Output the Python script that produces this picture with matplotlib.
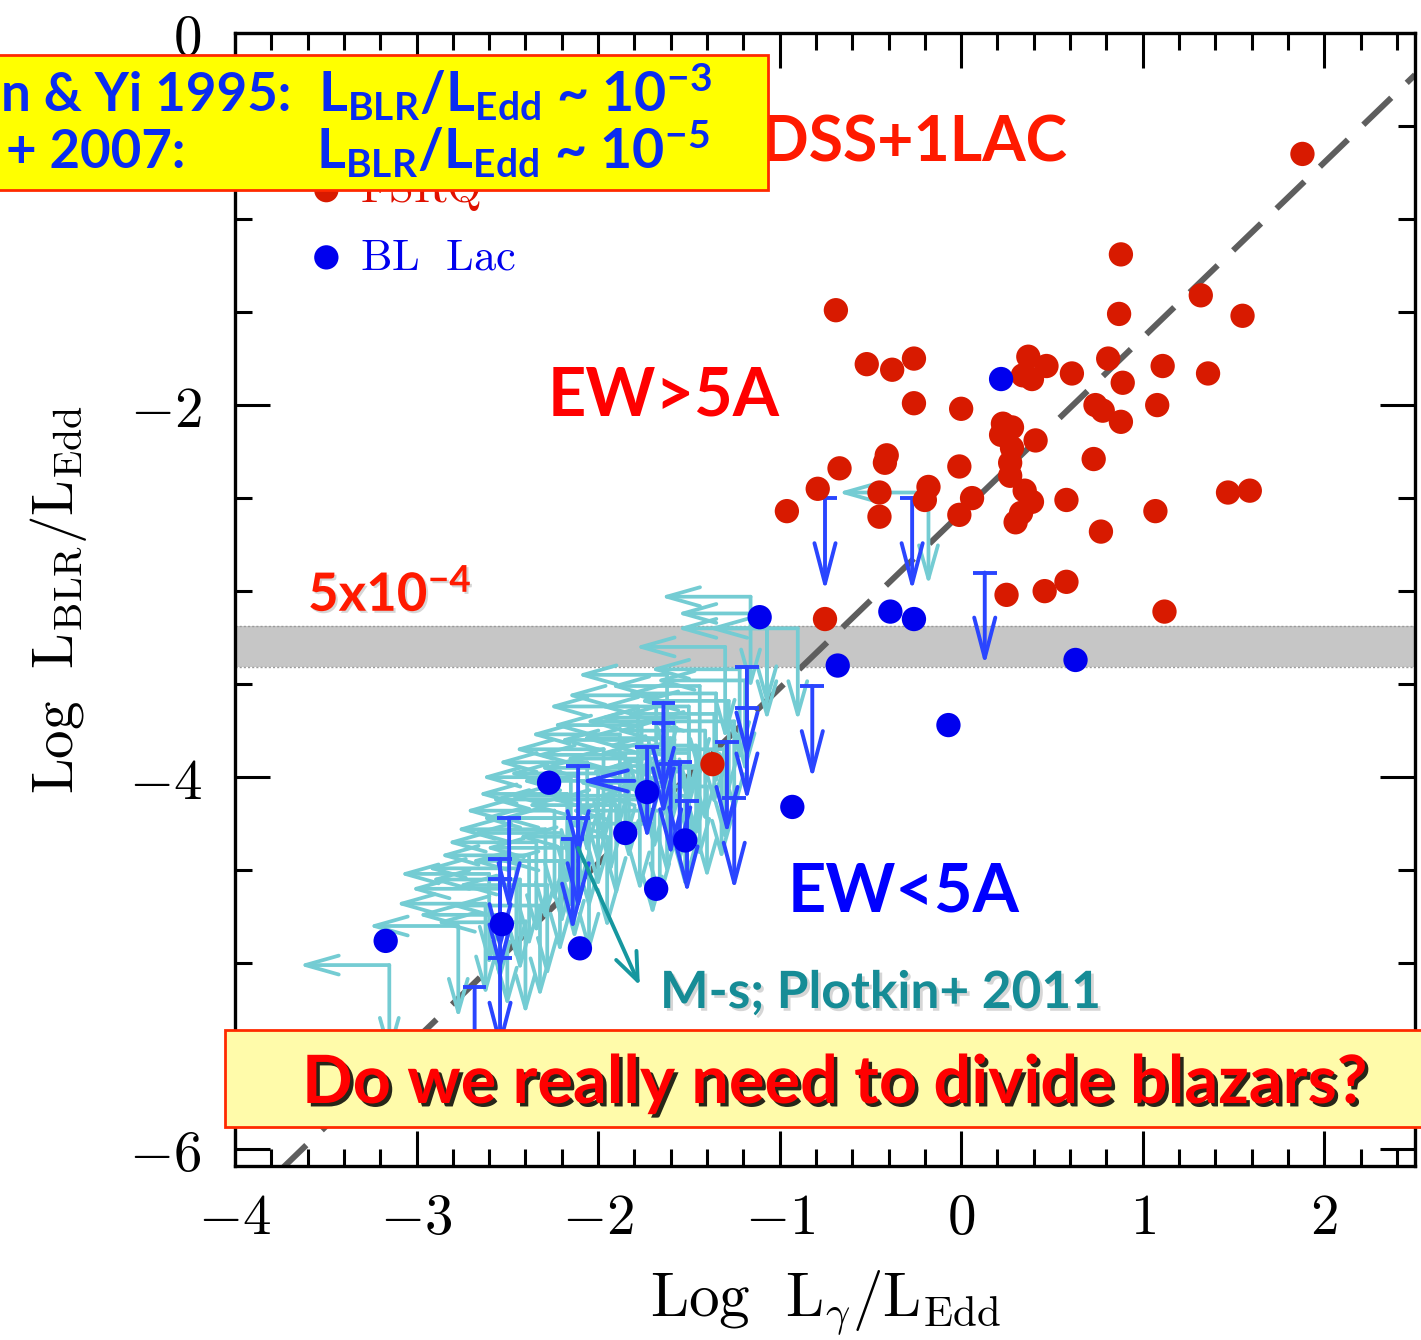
import numpy as np
import matplotlib
matplotlib.use("Agg")
import matplotlib.pyplot as plt
import matplotlib.patheffects as pe
from matplotlib.patches import Rectangle
from matplotlib.ticker import MultipleLocator

plt.rcParams["mathtext.fontset"] = "cm"
# the "custom" math set is used only by the annotation texts
plt.rcParams["mathtext.rm"] = "Lato:bold"
plt.rcParams["mathtext.bf"] = "Lato:bold"
plt.rcParams["mathtext.it"] = "Lato:bold"
plt.rcParams["mathtext.sf"] = "Lato:bold"

# ---------------- data: log Lgamma/LEdd (x), log LBLR/LEdd (y) ----------------
# FSRQs (EW > 5 A), SDSS + 1LAC
fsrq_x = [-0.69, 0.88, 1.32, 1.55, 0.87, -0.52, -0.38, -0.26, 0.37, 0.47,
          0.34, 0.39, 0.61, 0.81, 1.11, 1.36, 0.89, -0.26, 0.00, 0.74,
          0.78, 0.88, 1.08, 0.23, 0.28, 0.22, 0.41, 0.28, -0.41, -0.42,
          -0.01, 0.73, -0.67, 0.27, 0.27, -0.79, -0.45, -0.18, -0.20, 0.06,
          0.35, 0.39, 0.58, -0.96, -0.45, -0.01, 0.33, 0.30, 1.07, 1.47,
          1.59, 0.77, 0.25, 0.46, 0.58, 1.12, -0.75, 1.88, -1.37]
fsrq_y = [-1.49, -1.19, -1.41, -1.52, -1.51, -1.78, -1.81, -1.75, -1.74, -1.79,
          -1.84, -1.86, -1.83, -1.75, -1.79, -1.83, -1.88, -1.99, -2.02, -2.00,
          -2.03, -2.09, -2.00, -2.10, -2.12, -2.16, -2.19, -2.23, -2.27, -2.31,
          -2.33, -2.29, -2.34, -2.31, -2.38, -2.45, -2.47, -2.44, -2.51, -2.50,
          -2.46, -2.52, -2.51, -2.57, -2.60, -2.59, -2.58, -2.63, -2.57, -2.47,
          -2.46, -2.68, -3.02, -3.00, -2.95, -3.11, -3.15, -0.65, -3.93]

# BL Lacs with measured lines
bll_x = [0.22, -1.11, -0.39, -0.26, -0.68, 0.63, -0.07, -0.93, -2.27, -1.73,
         -1.85, -1.52, -1.68, -2.53, -2.10, -3.17]
bll_y = [-1.86, -3.14, -3.11, -3.15, -3.40, -3.37, -3.72, -4.16, -4.03, -4.08,
         -4.30, -4.34, -4.60, -4.79, -4.92, -4.88]

# BL Lacs with upper limits on the BLR luminosity
bll_lim_x = [-0.75, -0.27, 0.13, -0.82, -1.18, -1.18, -1.29, -1.25, -1.64, -1.64,
             -1.73, -1.60, -1.51, -2.11, -2.11, -2.14, -2.49, -2.54, -2.54, -2.54,
             -2.68, -1.55]
bll_lim_y = [-2.50, -2.50, -2.90, -3.51, -3.41, -3.63, -3.81, -4.11, -3.60, -3.71,
             -3.84, -3.93, -4.13, -3.94, -4.22, -4.33, -4.22, -4.44, -4.55, -4.97,
             -5.13, -3.92]

# BL Lac with an upper limit on the gamma-ray luminosity
bll_glim_x = [-1.80]
bll_glim_y = [-4.02]

# Plotkin+ 2011 M-s sources: upper limits on both quantities
ms_x = [-1.16, -1.07, -0.90, -1.07, -1.30, -1.22, -1.62, -1.19, -1.44, -1.68,
        -1.28, -1.36, -1.50, -1.76, -1.41, -1.60, -1.97, -1.50, -1.69, -2.06,
        -1.83, -1.44, -2.15, -1.93, -1.62, -2.17, -2.00, -1.77, -2.24, -2.05,
        -2.29, -2.34, -2.13, -2.45, -2.21, -2.54, -2.50, -2.32, -2.77, -3.15,
        -0.18, -1.88, -1.52, -1.66, -2.43,
        -1.35, -1.50, -1.25, -1.58, -1.72, -1.30, -1.85, -1.55, -2.00, -1.40,
        -1.90, -2.10, -1.70, -2.20, -1.95, -2.38, -2.05, -2.60, -2.28, -2.62,
        -2.40, -1.78, -1.46, -2.15, -1.32]
ms_y = [-3.03, -3.12, -3.20, -3.20, -3.30, -3.42, -3.45, -3.48, -3.51, -3.56,
        -3.59, -3.66, -3.68, -3.72, -3.75, -3.79, -3.85, -3.87, -3.90, -3.92,
        -3.95, -3.94, -4.00, -4.02, -4.03, -4.09, -4.10, -4.12, -4.18, -4.22,
        -4.28, -4.35, -4.38, -4.49, -4.45, -4.60, -4.74, -4.69, -4.80, -5.01,
        -2.47, -3.77, -4.10, -4.18, -4.55,
        -3.55, -3.62, -3.70, -3.70, -3.80, -3.85, -3.88, -3.97, -3.98, -4.05,
        -4.15, -4.12, -4.25, -4.30, -4.32, -4.42, -4.45, -4.52, -4.58, -4.68,
        -4.78, -3.62, -3.83, -4.22, -3.95]

# LBLR/LEdd = 5e-4 dividing band and the FSRQ relation
band_lo, band_hi = -3.41, -3.19
rel_slope, rel_icpt = 0.942, -2.58
limit_len = 0.5

# ---------------- figure ----------------
W, H = 1421, 1340


def fx(px):
    return px / W


def fy(py):
    return 1 - py / H


fig = plt.figure(figsize=(W / 100, H / 100), dpi=100)
ax = fig.add_axes([fx(235), fy(1166), (1415 - 235) / W, (1166 - 33) / H])
ax.set_xlim(-4, 2.5)
ax.set_ylim(-6.09, 0)

red = "#d81a00"
blue = "#0000ee"
lim_blue = "#2a45ff"
cyan = "#74ccd3"

ax.axhspan(band_lo, band_hi, facecolor="#c6c6c6", edgecolor="none", zorder=1)
for yb in (band_lo, band_hi):
    ax.axhline(yb, color="#9a9a9a", lw=1.0, ls=(0, (1.5, 1.5)), zorder=1.1)

xx = np.array(ax.get_xlim())
ax.plot(xx, rel_slope * xx + rel_icpt, color="#5e5e5e", lw=4.3,
        ls=(0, (6.5, 3.6)), dash_capstyle="butt", zorder=2)


def arrow(x0, y0, x1, y1, color, lw, z, hl=1.1, hw=0.28):
    ax.annotate("", xy=(x1, y1), xytext=(x0, y0), zorder=z,
                arrowprops=dict(arrowstyle=f"->,head_length={hl},head_width={hw}",
                                color=color, lw=lw, shrinkA=0, shrinkB=0,
                                mutation_scale=20))


# M-s upper limits: left and down from each corner
for x, y in zip(ms_x, ms_y):
    arrow(x, y, x - limit_len, y, cyan, 2.7, 3, hl=1.2, hw=0.34)
    arrow(x, y, x, y - limit_len, cyan, 2.7, 3, hl=1.2, hw=0.34)

# BL Lac upper limits on LBLR
bll_lim_x = np.array(bll_lim_x)
bll_lim_y = np.array(bll_lim_y)
ax.hlines(bll_lim_y, bll_lim_x - 0.065, bll_lim_x + 0.065, color=lim_blue,
          lw=2.8, zorder=4)
for x, y in zip(bll_lim_x, bll_lim_y):
    arrow(x, y, x, y - limit_len, lim_blue, 2.8, 4, hl=1.45, hw=0.38)
for x, y in zip(bll_glim_x, bll_glim_y):
    arrow(x, y, x - 0.3, y, lim_blue, 2.8, 4, hl=1.45, hw=0.38)

h_fsrq = ax.scatter(fsrq_x, fsrq_y, s=17.5 ** 2, color=red, edgecolors="none",
                    zorder=5)
h_bll = ax.scatter(bll_x, bll_y, s=17.5 ** 2, color=blue, edgecolors="none",
                   zorder=6)

# pointer to the Plotkin+ 2011 sample
ax.annotate("", xy=(-1.77, -5.12), xytext=(-2.11, -4.38), zorder=7,
            arrowprops=dict(arrowstyle="->,head_length=1.0,head_width=0.4",
                            color="#16979f", lw=2.8, shrinkA=0, shrinkB=0,
                            mutation_scale=20))

leg = ax.legend([h_fsrq, h_bll], [r"$\mathrm{FSRQ}$", r"$\mathrm{BL\ \ Lac}$"],
                loc="upper left", bbox_to_anchor=(0.068, 0.881), frameon=False,
                fontsize=32, handlelength=0.5, handletextpad=0.5,
                labelspacing=0.5, borderpad=0, borderaxespad=0,
                scatterpoints=1)
for t, c in zip(leg.get_texts(), ["#e01000", "#0000ee"]):
    t.set_color(c)

# axes frame and ticks
for s in ax.spines.values():
    s.set_linewidth(2.4)
ax.set_xticks([-4, -3, -2, -1, 0, 1, 2],
              labels=[r"$-4$", r"$-3$", r"$-2$", r"$-1$", r"$0$", r"$1$", r"$2$"])
ax.set_yticks([0, -2, -4, -6], labels=[r"$0$", r"$-2$", r"$-4$", r"$-6$"])
ax.xaxis.set_minor_locator(MultipleLocator(0.2))
ax.yaxis.set_minor_locator(MultipleLocator(0.5))
ax.tick_params(which="both", direction="in", top=True, right=True, width=2.2,
               labelsize=41, colors="black")
ax.tick_params(which="major", length=25)
ax.tick_params(which="minor", length=12)
ax.tick_params(axis="x", pad=18)
ax.tick_params(axis="y", pad=24)

ax.set_xlabel(r"$\mathrm{Log}\ \ \mathrm{L}_{\gamma}/\mathrm{L}_{\mathrm{Edd}}$",
              fontsize=44)
ax.xaxis.set_label_coords(0.5, -0.090)
ax.xaxis.label.set_va("top")
ax.set_ylabel(r"$\mathrm{Log}\ \ \mathrm{L}_{\mathrm{BLR}}/\mathrm{L}_{\mathrm{Edd}}$",
              fontsize=41)
ax.yaxis.set_label_coords(-0.124, 0.5)

# ---------------- annotations ----------------
comic = dict(family="Lato", fontweight="bold", math_fontfamily="custom")

fig.text(fx(1068), fy(161), "SDSS+1LAC", color="#ff1a00", fontsize=45,
         ha="right", va="baseline", zorder=4, **comic)
fig.text(fx(548), fy(416), "EW>5A", color="#ff0000", fontsize=48,
         ha="left", va="baseline", zorder=4, **comic)
fig.text(fx(788), fy(912), "EW<5A", color="#0000ff", fontsize=48,
         ha="left", va="baseline", zorder=4, **comic)
fig.text(fx(308), fy(611), r"5x10$^{-4}$", color="#ff1a00", fontsize=38,
         ha="left", va="baseline", zorder=4,
         path_effects=[pe.withSimplePatchShadow(offset=(1.5, -1.5),
                                                shadow_rgbFace="#999999",
                                                alpha=0.4)], **comic)
fig.text(fx(660), fy(1008), "M-s; Plotkin+ 2011", color="#168c96", fontsize=37,
         ha="left", va="baseline", zorder=4,
         path_effects=[pe.withSimplePatchShadow(offset=(2, -2),
                                                shadow_rgbFace="#999999",
                                                alpha=0.4)], **comic)

# top yellow box
fig.add_artist(Rectangle((fx(-5), fy(190)), (773) / W, (190 - 55) / H,
                         transform=fig.transFigure, facecolor="#ffff00",
                         edgecolor="#ff2a00", lw=2, zorder=5))
box_blue = "#0a2cf0"
fig.text(fx(291), fy(111), "n & Yi 1995:", color=box_blue, fontsize=38,
         ha="right", va="baseline", zorder=6, **comic)
fig.text(fx(318), fy(111),
         r"L$_{\mathrm{BLR}}$/L$_{\mathrm{Edd}}$ ~ 10$^{\mathrm{-3}}$",
         color=box_blue, fontsize=40, ha="left", va="baseline", zorder=6,
         **comic)
fig.text(fx(185), fy(168), "+ 2007:", color=box_blue, fontsize=38,
         ha="right", va="baseline", zorder=6, **comic)
fig.text(fx(316), fy(168),
         r"L$_{\mathrm{BLR}}$/L$_{\mathrm{Edd}}$ ~ 10$^{\mathrm{-5}}$",
         color=box_blue, fontsize=40, ha="left", va="baseline", zorder=6,
         **comic)

# bottom question box
fig.add_artist(Rectangle((fx(225), fy(1127)), (1430 - 225) / W, (1127 - 1030) / H,
                         transform=fig.transFigure, facecolor="#fffbaa",
                         edgecolor="#ff2a00", lw=2, zorder=5))
fig.text(fx(302), fy(1103), "Do we really need to divide blazars?",
         color="#ff0000", fontsize=48, ha="left", va="baseline", zorder=6,
         path_effects=[pe.withSimplePatchShadow(offset=(2.5, -2.5),
                                                shadow_rgbFace="black",
                                                alpha=0.85)], **comic)

fig.savefig("out.png", dpi=100)
